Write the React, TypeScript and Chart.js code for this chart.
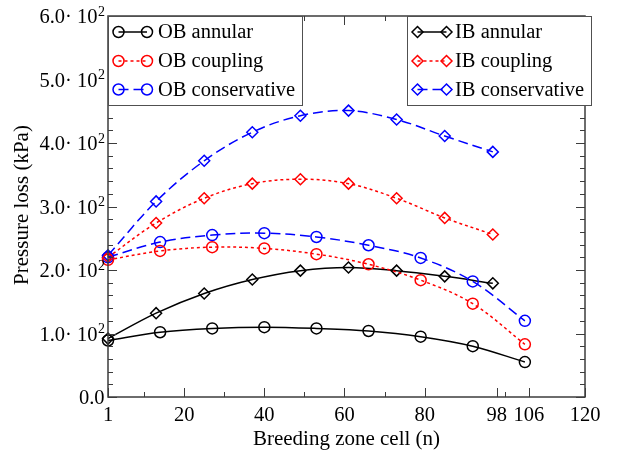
import React, { useEffect, useRef } from 'react';
import { Chart, registerables } from 'chart.js';

Chart.register(...registerables);

// ---- data ----
const OB_CELLS = [1, 14, 27, 40, 53, 66, 79, 92, 105];
const IB_CELLS = [1, 13, 25, 37, 49, 61, 73, 85, 97];

const OB_ANNULAR = [89, 102, 108, 110, 108, 104, 95, 80, 55];
const OB_COUPLING = [216, 230, 236, 234, 225, 209, 184, 147, 83];
const OB_CONSERVATIVE = [220, 244, 255, 258, 252, 239, 219, 182, 120];
const IB_ANNULAR = [92, 132, 163, 185, 199, 204, 199, 190, 179];
const IB_COUPLING = [220, 274, 313, 336, 343, 336, 313, 282, 256];
const IB_CONSERVATIVE = [223, 308, 372, 417, 443, 451, 437, 411, 386];

const X_MAJOR_TICKS = [1, 20, 40, 60, 80, 98, 106, 120];
const X_TICK_LABELS = ['1', '20', '40', '60', '80', '98', '106', '120'];
const X_MINOR_TICKS = [10, 30, 50, 70, 100];
const Y_MAJOR_TICKS = [0, 100, 200, 300, 400, 500, 600];
const Y_TICK_MANTISSA = ['0.0', '1.0· 10', '2.0· 10', '3.0· 10', '4.0· 10', '5.0· 10', '6.0· 10'];
const Y_TICK_EXPONENT = ['', '2', '2', '2', '2', '2', '2'];

const X_TITLE = 'Breeding zone cell (n)';
const Y_TITLE = 'Pressure loss (kPa)';

const RED = '#ff0000';
const BLUE = '#0000ff';
const BLACK = '#000000';
const SOLID: number[] = [];
const DOTTED = [3, 3];
const DASHED = [10, 5];

type Series = {
  label: string;
  cells: number[];
  values: number[];
  color: string;
  dash: number[];
  marker: 'circle' | 'rectRot';
};

const SERIES: Series[] = [
  { label: 'OB annular', cells: OB_CELLS, values: OB_ANNULAR, color: BLACK, dash: SOLID, marker: 'circle' },
  { label: 'OB coupling', cells: OB_CELLS, values: OB_COUPLING, color: RED, dash: DOTTED, marker: 'circle' },
  { label: 'OB conservative', cells: OB_CELLS, values: OB_CONSERVATIVE, color: BLUE, dash: DASHED, marker: 'circle' },
  { label: 'IB annular', cells: IB_CELLS, values: IB_ANNULAR, color: BLACK, dash: SOLID, marker: 'rectRot' },
  { label: 'IB coupling', cells: IB_CELLS, values: IB_COUPLING, color: RED, dash: DOTTED, marker: 'rectRot' },
  { label: 'IB conservative', cells: IB_CELLS, values: IB_CONSERVATIVE, color: BLUE, dash: DASHED, marker: 'rectRot' },
];

const FONT = '"Liberation Serif", "Times New Roman", serif';
const TICK_FONT = `20.5px ${FONT}`;
const SUP_FONT = `14px ${FONT}`;
const TITLE_FONT = `21px ${FONT}`;
const LEGEND_FONT = `20.5px ${FONT}`;
const AXIS_COLOR = '#3c3c3c';
const CIRCLE_R = 5.5;
const DIAMOND_R = 5.5;

function drawMarker(ctx: CanvasRenderingContext2D, kind: string, x: number, y: number, color: string) {
  ctx.save();
  ctx.setLineDash([]);
  ctx.strokeStyle = color;
  ctx.lineWidth = 1.5;
  ctx.beginPath();
  if (kind === 'circle') {
    ctx.arc(x, y, CIRCLE_R, 0, Math.PI * 2);
  } else {
    ctx.moveTo(x, y - DIAMOND_R);
    ctx.lineTo(x + DIAMOND_R, y);
    ctx.lineTo(x, y + DIAMOND_R);
    ctx.lineTo(x - DIAMOND_R, y);
    ctx.closePath();
  }
  ctx.stroke();
  ctx.restore();
}

const decorPlugin = {
  id: 'decor',
  afterDraw(chart: any) {
    const { ctx, chartArea: a } = chart;
    const xs = chart.scales.x;
    const ys = chart.scales.y;
    ctx.save();

    // frame
    ctx.strokeStyle = AXIS_COLOR;
    ctx.lineWidth = 1.5;
    ctx.setLineDash([]);
    ctx.strokeRect(a.left, a.top, a.right - a.left, a.bottom - a.top);

    // x ticks (bottom + top, inward)
    ctx.lineWidth = 1;
    const xTick = (v: number, len: number) => {
      const px = Math.round(xs.getPixelForValue(v)) + 0.5;
      ctx.beginPath();
      ctx.moveTo(px, a.bottom);
      ctx.lineTo(px, a.bottom - len);
      ctx.moveTo(px, a.top);
      ctx.lineTo(px, a.top + len);
      ctx.stroke();
    };
    X_MAJOR_TICKS.forEach((v) => xTick(v, 9));
    X_MINOR_TICKS.forEach((v) => xTick(v, 5));

    // y ticks (left + right, inward)
    const yTick = (v: number, len: number) => {
      const py = Math.round(ys.getPixelForValue(v)) + 0.5;
      ctx.beginPath();
      ctx.moveTo(a.left, py);
      ctx.lineTo(a.left + len, py);
      ctx.moveTo(a.right, py);
      ctx.lineTo(a.right - len, py);
      ctx.stroke();
    };
    for (let v = 0; v <= 600; v += 20) {
      yTick(v, v % 100 === 0 ? 9 : 5);
    }

    // x tick labels
    ctx.fillStyle = '#000';
    ctx.font = TICK_FONT;
    ctx.textAlign = 'center';
    ctx.textBaseline = 'alphabetic';
    X_MAJOR_TICKS.forEach((v, i) => {
      ctx.fillText(X_TICK_LABELS[i], xs.getPixelForValue(v), a.bottom + 24);
    });

    // y tick labels with superscript
    Y_MAJOR_TICKS.forEach((v, i) => {
      const py = ys.getPixelForValue(v);
      const right = a.left - 3;
      const main = Y_TICK_MANTISSA[i];
      const exp = Y_TICK_EXPONENT[i];
      ctx.textAlign = 'right';
      ctx.textBaseline = 'alphabetic';
      let expW = 0;
      if (exp) {
        ctx.font = SUP_FONT;
        expW = ctx.measureText(exp).width;
        ctx.fillText(exp, right, py - 0.5);
      }
      ctx.font = TICK_FONT;
      ctx.fillText(main, right - expW - 0.5, py + 7);
    });

    // axis titles
    ctx.font = TITLE_FONT;
    ctx.textAlign = 'center';
    ctx.textBaseline = 'middle';
    ctx.fillText(X_TITLE, (a.left + a.right) / 2, 439);
    ctx.save();
    ctx.translate(22.5, 205);
    ctx.rotate(-Math.PI / 2);
    ctx.fillText(Y_TITLE, 0, 0);
    ctx.restore();

    // legends
    const drawLegend = (box: [number, number, number, number], items: Series[], m1: number, m2: number, tx: number) => {
      const [l, t, r, b] = box;
      ctx.fillStyle = '#fff';
      ctx.fillRect(l, t, r - l, b - t);
      ctx.strokeStyle = '#505050';
      ctx.lineWidth = 1;
      ctx.setLineDash([]);
      ctx.strokeRect(l + 0.5, t + 0.5, r - l, b - t);
      const rows = [32, 61, 89.5];
      items.forEach((s, i) => {
        const yy = rows[i];
        ctx.save();
        ctx.strokeStyle = s.color;
        ctx.lineWidth = 1.5;
        ctx.setLineDash(s.dash);
        ctx.beginPath();
        ctx.moveTo(m1, yy);
        ctx.lineTo(m2, yy);
        ctx.stroke();
        ctx.restore();
        drawMarker(ctx, s.marker, m1, yy, s.color);
        drawMarker(ctx, s.marker, m2, yy, s.color);
        ctx.fillStyle = '#000';
        ctx.font = LEGEND_FONT;
        ctx.textAlign = 'left';
        ctx.textBaseline = 'middle';
        ctx.fillText(s.label, tx, yy + 1);
      });
    };
    drawLegend([a.left, a.top, 302, 105], SERIES.slice(0, 3), 118.5, 147, 158);
    drawLegend([407, a.top, 591, 105], SERIES.slice(3, 6), 417.5, 446.5, 455);

    ctx.restore();
  },
};

export default function App() {
  const ref = useRef<HTMLCanvasElement | null>(null);

  useEffect(() => {
    if (!ref.current) return;
    const chart = new Chart(ref.current, {
      type: 'line',
      data: {
        datasets: SERIES.map((s) => ({
          label: s.label,
          data: s.cells.map((c, i) => ({ x: c, y: s.values[i] })),
          borderColor: s.color,
          borderWidth: 1.5,
          borderDash: s.dash,
          backgroundColor: 'rgba(0,0,0,0)',
          pointStyle: s.marker,
          pointRadius: s.marker === 'circle' ? CIRCLE_R : DIAMOND_R,
          pointBorderWidth: 1.5,
          pointBorderColor: s.color,
          pointBackgroundColor: 'rgba(0,0,0,0)',
          tension: 0.35,
          fill: false,
          clip: false,
        })),
      },
      options: {
        responsive: false,
        maintainAspectRatio: false,
        animation: false,
        layout: { padding: { top: 16, right: 37, left: 0, bottom: 0 } },
        plugins: {
          legend: { display: false },
          tooltip: { enabled: false },
        },
        scales: {
          x: {
            type: 'linear',
            min: 1,
            max: 120,
            grid: { display: false },
            border: { display: false },
            ticks: { display: false },
            afterFit: (s: any) => {
              s.height = 60;
            },
          },
          y: {
            type: 'linear',
            min: 0,
            max: 600,
            grid: { display: false },
            border: { display: false },
            ticks: { display: false },
            afterFit: (s: any) => {
              s.width = 108;
            },
          },
        },
      },
      plugins: [decorPlugin],
    } as any);
    return () => chart.destroy();
  }, []);

  return (
    <div style={{ position: 'absolute', left: 0, top: 0, width: 622, height: 457, background: '#fff' }}>
      <canvas ref={ref} width={622} height={457} style={{ display: 'block' }} />
    </div>
  );
}
